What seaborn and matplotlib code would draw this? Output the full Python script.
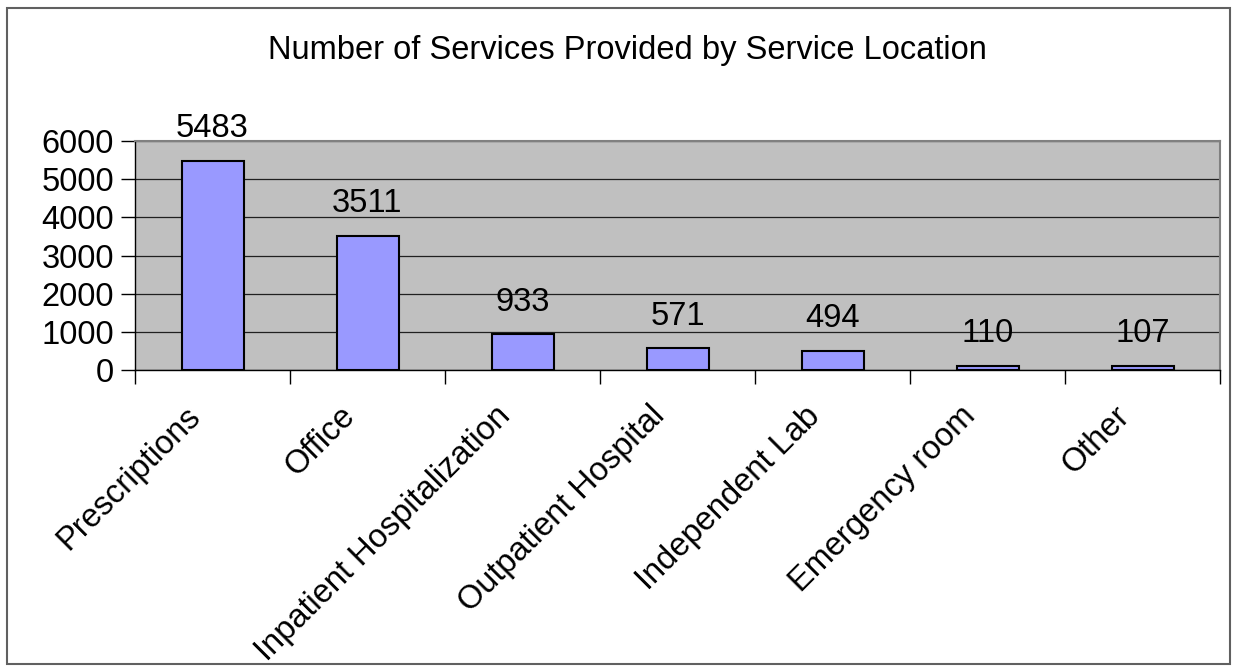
import matplotlib
matplotlib.use("Agg")
import matplotlib.pyplot as plt
import matplotlib.transforms as mtransforms
import seaborn as sns
import pandas as pd
from matplotlib.patches import Rectangle

locations = ["Prescriptions", "Office", "Inpatient Hospitalization",
             "Outpatient Hospital", "Independent Lab", "Emergency room", "Other"]
services = [5483, 3511, 933, 571, 494, 110, 107]
y_ticks = [0, 1000, 2000, 3000, 4000, 5000, 6000]

df = pd.DataFrame({"location": locations, "services": services})

sns.set_style("white")
plt.rcParams['font.family'] = ['Liberation Sans', 'DejaVu Sans']
plt.rcParams['text.color'] = 'black'
plt.rcParams['xtick.color'] = 'black'
plt.rcParams['ytick.color'] = 'black'

FS = 23.5

fig = plt.figure(figsize=(12.39, 6.72), dpi=100)
ax = fig.add_axes([135 / 1239, 1 - 370 / 672, 1085 / 1239, 229 / 672])
ax.set_facecolor("#C0C0C0")

sns.barplot(data=df, x="location", y="services", color="#9999FF",
            saturation=1, width=0.4, edgecolor="black", linewidth=1.5, ax=ax)

ax.set_ylim(0, 6000)
ax.set_xlim(-0.5, len(locations) - 0.5)
ax.set_yticks(y_ticks)
ax.set_yticklabels([str(t) for t in y_ticks], fontsize=FS)
ax.yaxis.grid(True, color="#202020", linewidth=0.9)
ax.set_axisbelow(True)

# category ticks sit between the bars
ax.set_xticks([i - 0.5 for i in range(len(locations) + 1)], minor=True)
ax.set_xticks(range(len(locations)))
ax.set_xticklabels(locations, rotation=45, ha="right", va="top",
                   rotation_mode="anchor", fontsize=FS)
ax.tick_params(axis="x", which="major", length=0, pad=22)
ax.tick_params(axis="x", which="minor", length=10, width=1, color="black",
               direction="out", bottom=True)
ax.tick_params(axis="y", length=10, width=1, color="black", direction="out",
               left=True, pad=5)

# nudge the slanted labels to the left, as in the original
shift = mtransforms.ScaledTranslation(-28 / 100, 0, fig.dpi_scale_trans)
for lab in ax.get_xticklabels():
    lab.set_transform(lab.get_transform() + shift)

ax.set_xlabel("")
ax.set_ylabel("")

for side in ["left", "bottom"]:
    ax.spines[side].set_color("black")
    ax.spines[side].set_linewidth(1)
for side in ["top", "right"]:
    ax.spines[side].set_color("#808080")
    ax.spines[side].set_linewidth(1.5)

for i, v in enumerate(services):
    ax.annotate(str(v), (i, v), xytext=(0, 12), textcoords="offset points",
                ha="center", va="bottom", fontsize=FS)

fig.text(627 / 1239, 1 - 51 / 672, "Number of Services Provided by Service Location",
         ha="center", va="center", fontsize=FS)

fig.patches.append(Rectangle((7 / 1239, 8 / 672), 1223 / 1239, 656 / 672,
                             transform=fig.transFigure, fill=False,
                             edgecolor="#606060", linewidth=1.5))

plt.savefig("out.png", dpi=100)
